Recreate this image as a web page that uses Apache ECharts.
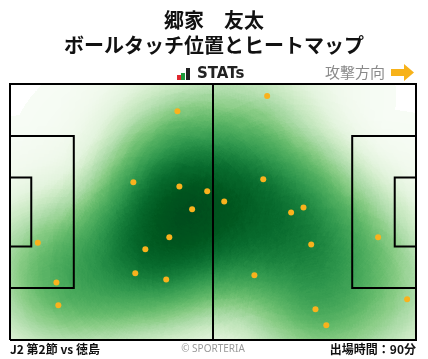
<!DOCTYPE html>
<html><head><meta charset="utf-8">
<script src="https://cdn.jsdelivr.net/npm/echarts@6/dist/echarts.min.js"></script>
<style>html,body{margin:0;padding:0;background:#fff}#c{width:428px;height:359px}</style>
</head><body><div id="c"></div>
<script>
// ---- data ----
const playerName = '郷家　友太';
const chartTitle = 'ボールタッチ位置とヒートマップ';
const matchLabel = 'J2 第2節 vs 徳島';
const playTimeLabel = '出場時間：90分';
const creditLabel = '© SPORTERIA';
const directionLabel = '攻撃方向';
// pitch dimensions (m)
const pitchLength = 105, pitchWidth = 68;
const penaltyDepth = 16.5, penaltyWidth = 40.32;
const goalAreaDepth = 5.5, goalAreaWidth = 18.32;
// touch positions: x from own goal line (m), y from top touchline (m)
const touchX = [43.3, 66.5, 31.9, 43.8, 51.0, 47.1, 55.4, 65.5, 72.7, 75.9, 7.2, 12.0, 12.5, 41.2, 35.0, 32.4, 40.4, 77.9, 95.2, 63.2, 102.7, 79.0, 81.8];
const touchY = [7.25, 3.2, 26.1, 27.2, 28.5, 33.3, 31.2, 25.3, 34.1, 32.8, 42.2, 52.7, 58.8, 40.7, 43.9, 50.3, 51.9, 42.6, 40.7, 50.8, 57.2, 59.8, 64.1];
const touchWeight = 1;
// heat colour ramp (light -> dark), evenly spaced stops
const heatColors = ['#f7fcf5','#f0f9ec','#e4f4de','#cceac5','#aedcaa','#8bcd87','#66bb6c','#48a95b','#2f974d','#18803c','#076a2d','#00571f','#00491c','#00441b','#00441b','#00441b','#00441b','#00441b','#00441b','#00441b','#00441b'];

echarts.registerMap('pitch', {type:'FeatureCollection', features:[{type:'Feature', properties:{name:'pitch'},
  geometry:{type:'Polygon', coordinates:[[[0,0],[pitchLength,0],[pitchLength,pitchWidth],[0,pitchWidth],[0,0]]]}}]});

const points = touchX.map((x,i)=>[x, pitchWidth - touchY[i]]);
const heatData = points.map(p=>[p[0], p[1], touchWeight]);

const cy = pitchWidth/2;
const L = pitchLength;
const pitchLines = [
  [[0,0],[L,0],[L,pitchWidth],[0,pitchWidth],[0,0]],
  [[L/2,0],[L/2,pitchWidth]],
  [[0,cy+penaltyWidth/2],[penaltyDepth,cy+penaltyWidth/2],[penaltyDepth,cy-penaltyWidth/2],[0,cy-penaltyWidth/2]],
  [[0,cy+goalAreaWidth/2],[goalAreaDepth,cy+goalAreaWidth/2],[goalAreaDepth,cy-goalAreaWidth/2],[0,cy-goalAreaWidth/2]],
  [[L,cy+penaltyWidth/2],[L-penaltyDepth,cy+penaltyWidth/2],[L-penaltyDepth,cy-penaltyWidth/2],[L,cy-penaltyWidth/2]],
  [[L,cy+goalAreaWidth/2],[L-goalAreaDepth,cy+goalAreaWidth/2],[L-goalAreaDepth,cy-goalAreaWidth/2],[L,cy-goalAreaWidth/2]]
];

const chart = echarts.init(document.getElementById('c'), null, {renderer:'canvas'});
const jp = '"Noto Sans CJK JP", "Noto Sans", sans-serif';
chart.setOption({
  backgroundColor:'#ffffff',
  animation:false,
  title:{text: playerName + '\n' + chartTitle, left:'center', top:8, padding:0,
    textStyle:{fontFamily:jp, fontSize:20, fontWeight:'bold', color:'#111', lineHeight:25}},
  geo:{map:'pitch', roam:false, silent:true, left:10, top:84, width:406, height:256,
    aspectScale: (406/256)/(pitchLength/pitchWidth),
    boundingCoords:[[0,pitchWidth],[pitchLength,0]],
    itemStyle:{areaColor:'#ffffff', borderWidth:0},
    emphasis:{disabled:true}, select:{disabled:true}, label:{show:false}},
  visualMap:{type:'continuous', show:false, seriesIndex:0, dimension:2, min:0, max:3,
    inRange:{color:heatColors}},
  series:[
    {type:'heatmap', coordinateSystem:'geo', data:heatData, pointSize:45, blurSize:90, minOpacity:1, maxOpacity:1, silent:true, z:2},
    {type:'lines', coordinateSystem:'geo', polyline:true, silent:true, z:5,
      lineStyle:{color:'#000', width:2, opacity:1},
      data: pitchLines.map(c=>({coords:c}))},
    {type:'scatter', coordinateSystem:'geo', data:points, symbolSize:6, silent:true, z:6,
      itemStyle:{color:'#f9b21d', opacity:1}}
  ],
  graphic:[
    {type:'rect', shape:{x:177,y:75,width:4,height:5}, style:{fill:'#e0282e'}},
    {type:'rect', shape:{x:181,y:73,width:4,height:7}, style:{fill:'#1f9a3c'}},
    {type:'rect', shape:{x:186,y:68,width:4,height:12}, style:{fill:'#222'}},
    {type:'text', x:197, y:74, style:{text:'STATs', fontFamily:'"DejaVu Sans", sans-serif', fontWeight:'bold', fontSize:15, fill:'#222', verticalAlign:'middle'}},
    {type:'text', x:325, y:72, style:{text:directionLabel, fontFamily:jp, fontSize:15, fill:'#8a8a8a', verticalAlign:'middle'}},
    {type:'polygon', shape:{points:[[391,69],[404,69],[404,64],[414,72.5],[404,81],[404,76],[391,76]]}, style:{fill:'#f7b219'}},
    {type:'text', x:10, y:349, style:{text:matchLabel, fontFamily:jp, fontSize:12, fontWeight:'bold', fill:'#111', verticalAlign:'middle'}},
    {type:'text', x:213, y:349, style:{text:creditLabel, fontFamily:'"Noto Sans", sans-serif', fontSize:10, fill:'#999', align:'center', verticalAlign:'middle'}},
    {type:'text', x:416, y:349, style:{text:playTimeLabel, fontFamily:jp, fontSize:12, fontWeight:'bold', fill:'#111', align:'right', verticalAlign:'middle'}}
  ]
});
</script></body></html>
